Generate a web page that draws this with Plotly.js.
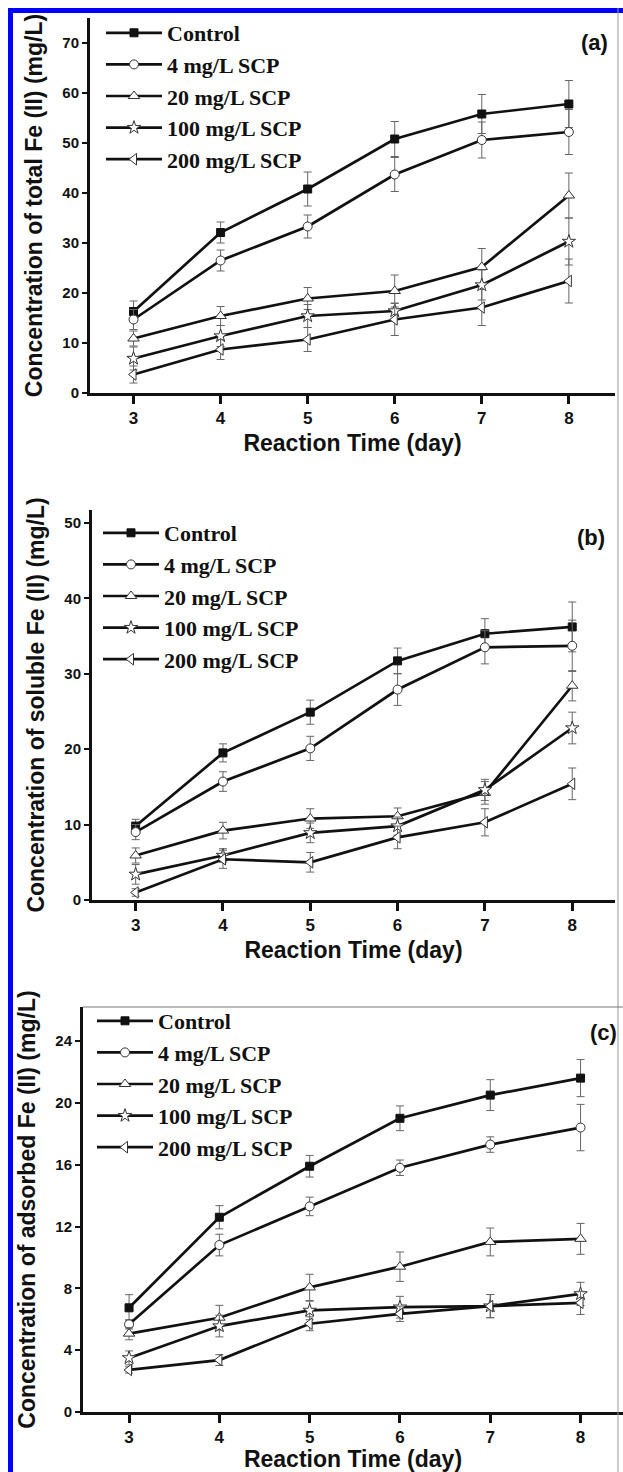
<!DOCTYPE html>
<html>
<head>
<meta charset="utf-8">
<script src="https://cdn.plot.ly/plotly-3.0.1.min.js"></script>
<style>html,body{margin:0;padding:0;background:#fff;}#chart{width:623px;height:1472px;}</style>
</head>
<body>
<div id="chart"></div>
<script>
// ---- data ----
const days = [3, 4, 5, 6, 7, 8];
const seriesNames = ['Control', '4 mg/L SCP', '20 mg/L SCP', '100 mg/L SCP', '200 mg/L SCP'];

// (a) total Fe(II)
const totalControl = [16.3, 32.1, 40.8, 50.8, 55.8, 57.8];
const totalControlErr = [2.1, 2.1, 3.4, 3.5, 3.9, 4.7];
const total4 = [14.7, 26.5, 33.3, 43.7, 50.6, 52.2];
const total4Err = [2.0, 2.1, 2.3, 3.4, 3.6, 4.5];
const total20 = [10.9, 15.4, 18.9, 20.4, 25.2, 39.5];
const total20Err = [1.5, 1.9, 2.2, 3.2, 3.7, 4.5];
const total100 = [6.9, 11.4, 15.4, 16.4, 21.6, 30.3];
const total100Err = [2.3, 2.1, 2.3, 1.6, 3.0, 4.7];
const total200 = [3.7, 8.7, 10.7, 14.7, 17.1, 22.4];
const total200Err = [1.7, 2.0, 2.4, 3.2, 3.6, 4.4];

// (b) soluble Fe(II)
const solControl = [9.8, 19.5, 24.9, 31.7, 35.3, 36.2];
const solControlErr = [0.9, 1.2, 1.6, 1.7, 2.0, 3.3];
const sol4 = [9.0, 15.7, 20.1, 27.9, 33.5, 33.7];
const sol4Err = [1.0, 1.3, 1.6, 2.1, 2.2, 3.4];
const sol20 = [5.9, 9.2, 10.8, 11.1, 14.2, 28.4];
const sol20Err = [1.0, 1.1, 1.3, 1.1, 1.5, 2.0];
const sol100 = [3.4, 5.9, 8.9, 9.8, 14.6, 22.8];
const sol100Err = [1.3, 0.9, 1.3, 1.2, 1.4, 2.1];
const sol200 = [1.0, 5.4, 5.0, 8.3, 10.3, 15.4];
const sol200Err = [0.5, 1.2, 1.3, 1.5, 1.8, 2.1];

// (c) adsorbed Fe(II)
const adsControl = [6.74, 12.6, 15.9, 19.0, 20.5, 21.6];
const adsControlErr = [0.85, 0.75, 0.7, 0.8, 1.0, 1.2];
const ads4 = [5.67, 10.8, 13.3, 15.8, 17.3, 18.4];
const ads4Err = [0.3, 0.7, 0.6, 0.5, 0.5, 1.5];
const ads20 = [5.07, 6.1, 8.06, 9.4, 11.0, 11.2];
const ads20Err = [0.4, 0.8, 0.85, 0.95, 0.9, 1.0];
const ads100 = [3.5, 5.56, 6.57, 6.78, 6.85, 7.64];
const ads100Err = [0.45, 0.7, 0.6, 0.7, 0.75, 0.75];
const ads200 = [2.72, 3.36, 5.71, 6.35, 6.85, 7.06];
const ads200Err = [0.2, 0.35, 0.45, 0.5, 0.75, 0.75];

const xTicks = [3, 4, 5, 6, 7, 8];
const panelLabels = ['(a)', '(b)', '(c)'];
const yTitles = ['Concentration of total Fe (II) (mg/L)',
                 'Concentration of soluble Fe (II) (mg/L)',
                 'Concentration of adsorbed Fe (II) (mg/L)'];
const xTitle = 'Reaction Time (day)';

// ---- styling ----
const W = 623, H = 1472;
const px = v => v / W;
const py = v => 1 - v / H;
const symbols = ['square', 'circle', 'triangle-up', 'star', 'triangle-left'];
const sizes = [8, 9, 10, 10, 10];

const panels = [
  {series: [[totalControl, totalControlErr], [total4, total4Err], [total20, total20Err], [total100, total100Err], [total200, total200Err]]},
  {series: [[solControl, solControlErr], [sol4, sol4Err], [sol20, sol20Err], [sol100, sol100Err], [sol200, sol200Err]]},
  {series: [[adsControl, adsControlErr], [ads4, ads4Err], [ads20, ads20Err], [ads100, ads100Err], [ads200, ads200Err]]}
];

const traces = [];
panels.forEach((p, pi) => {
  const sfx = pi === 0 ? '' : String(pi + 1);
  p.series.forEach((s, si) => {
    traces.push({
      type: 'scatter', mode: 'lines+markers',
      x: days, y: s[0], name: seriesNames[si],
      xaxis: 'x' + sfx, yaxis: 'y' + sfx,
      legend: 'legend' + sfx,
      line: {color: '#111', width: 2.7},
      marker: {symbol: symbols[si], size: sizes[si],
               color: si === 0 ? '#111' : '#fff',
               line: {color: si === 0 ? '#111' : '#333', width: 1}},
      error_y: {type: 'data', array: s[1], visible: true, color: '#666', thickness: 1, width: 4},
      cliponaxis: false
    });
  });
});

const tickFontX = {family: 'Liberation Sans, Arial, sans-serif', size: 17, color: '#111', weight: 'bold'};
const tickFontY = {family: 'Liberation Sans, Arial, sans-serif', size: 15, color: '#111', weight: 'bold'};
const titleFont = {family: 'Liberation Sans, Arial, sans-serif', size: 23, color: '#111', weight: 'bold'};
const legFont = {family: 'Liberation Serif, Times New Roman, serif', size: 22, color: '#111', weight: 'bold'};

function xax(d0, d1, r, anchor) {
  return {domain: [px(d0), px(d1)], range: r, anchor: anchor, tickvals: xTicks,
    ticks: 'outside', ticklen: 8, tickwidth: 3, tickcolor: '#111',
    showline: true, linewidth: 3, linecolor: '#111', showgrid: false, zeroline: false,
    tickfont: tickFontX, fixedrange: true,
    title: {text: xTitle, font: titleFont, standoff: 8}};
}
function yax(t, b, r, dt, anchor, ti) {
  return {domain: [py(b), py(t)], range: r, anchor: anchor, dtick: dt, tick0: 0,
    ticks: 'outside', ticklen: 5, tickwidth: 2, tickcolor: '#111',
    showline: true, linewidth: 3, linecolor: '#111', showgrid: false, zeroline: false,
    tickfont: tickFontY, fixedrange: true,
    title: {text: yTitles[ti], font: titleFont, standoff: 14}};
}
function leg(x, y) {
  return {x: px(x), y: py(y), xanchor: 'left', yanchor: 'top', font: legFont,
    bgcolor: 'rgba(0,0,0,0)', borderwidth: 0, itemwidth: 56, traceorder: 'normal'};
}

const layout = {
  width: W, height: H, margin: {l: 0, r: 0, t: 0, b: 0},
  paper_bgcolor: '#fff', plot_bgcolor: 'rgba(0,0,0,0)', showlegend: true,
  xaxis: xax(90, 615, [2.5, 8.53], 'y'),
  yaxis: yax(18, 393, [0, 75], 10, 'x', 0),
  xaxis2: xax(92, 615, [2.5, 8.49], 'y2'),
  yaxis2: yax(510, 900, [0, 51.7], 10, 'x2', 1),
  xaxis3: xax(83, 623, [2.49, 8.47], 'y3'),
  yaxis3: yax(1007, 1412, [0, 26.2], 4, 'x3', 2),
  legend: leg(101, 12),
  legend2: leg(98, 512),
  legend3: leg(92, 1000),
  annotations: [
    {text: panelLabels[0], x: px(594), y: py(42)},
    {text: panelLabels[1], x: px(591), y: py(537)},
    {text: panelLabels[2], x: px(603), y: py(1032)}
  ].map(a => Object.assign(a, {xref: 'paper', yref: 'paper', xanchor: 'center', yanchor: 'middle',
    showarrow: false, font: {family: 'Liberation Sans, Arial, sans-serif', size: 22, color: '#111', weight: 'bold'}})),
  shapes: [
    {type: 'rect', xref: 'paper', yref: 'paper', x0: px(8), x1: 1, y0: py(13), y1: py(8), fillcolor: '#0000ff', line: {width: 0}, layer: 'above'},
    {type: 'rect', xref: 'paper', yref: 'paper', x0: px(8), x1: px(13), y0: 0, y1: py(8), fillcolor: '#0000ff', line: {width: 0}, layer: 'above'},
    {type: 'line', xref: 'paper', yref: 'paper', x0: px(618), x1: px(618), y0: 0, y1: py(8), line: {color: '#999', width: 1}},
    {type: 'line', xref: 'paper', yref: 'paper', x0: px(83), x1: 1, y0: py(1007), y1: py(1007), line: {color: '#777', width: 1}}
  ]
};

Plotly.newPlot('chart', traces, layout, {staticPlot: true, displayModeBar: false});
</script>
</body>
</html>
